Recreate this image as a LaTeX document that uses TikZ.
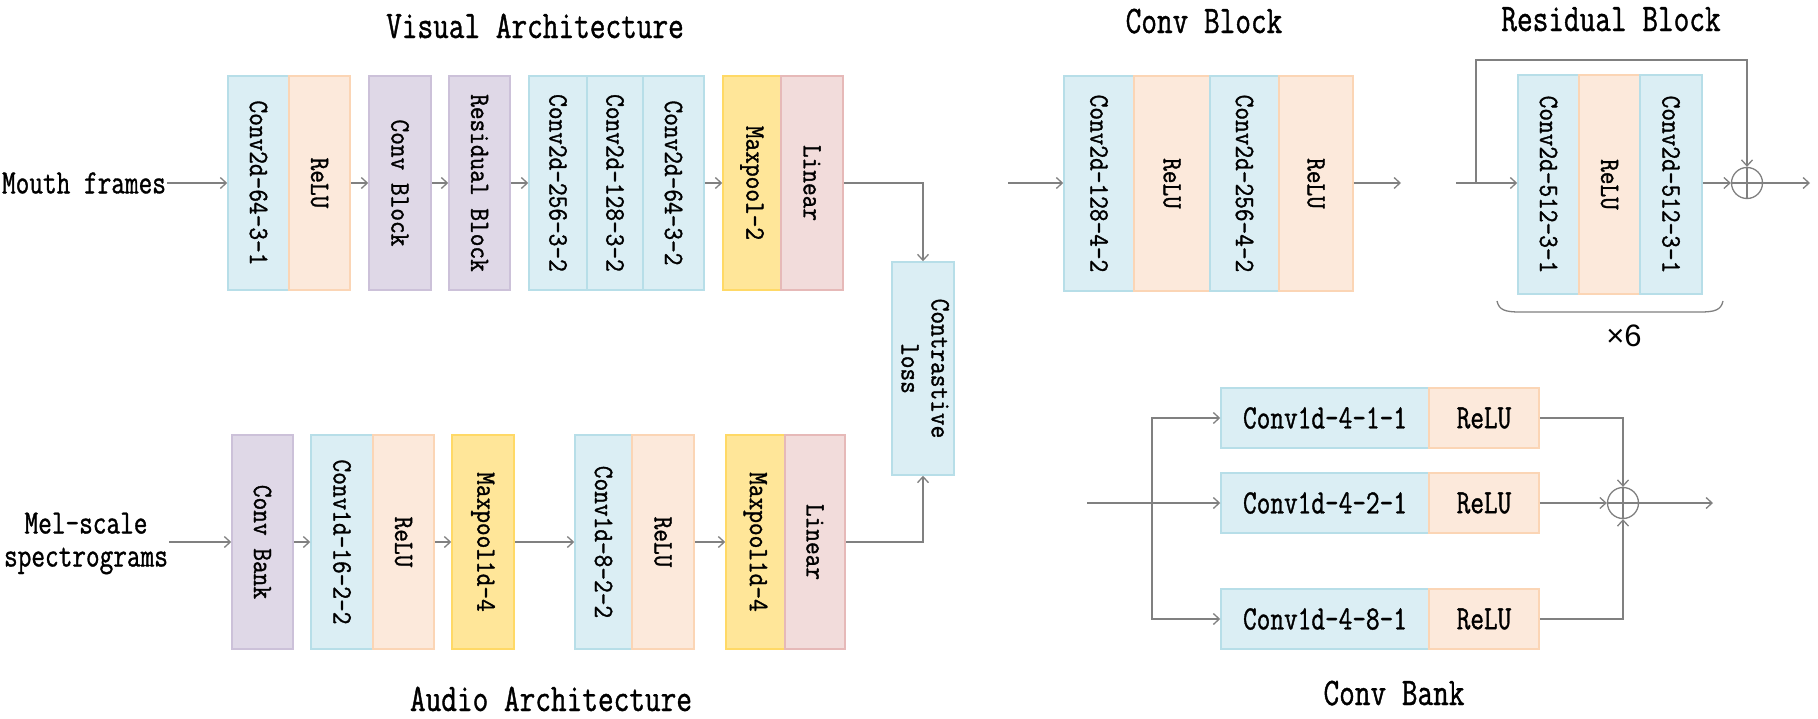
\documentclass[tikz,border=0pt]{standalone}
\usepackage{fontspec}
\usetikzlibrary{arrows.meta}
\newfontfamily\boxfont[FakeStretch=0.88,FakeBold=1.2]{Latin Modern Mono}
\newfontfamily\condfont[FakeStretch=0.78,FakeBold=1.0]{Latin Modern Mono}
\newfontfamily\symfont{Liberation Sans}
\definecolor{blueF}{RGB}{219,238,244}
\definecolor{blueD}{RGB}{183,222,232}
\definecolor{peachF}{RGB}{252,233,219}
\definecolor{peachD}{RGB}{251,213,181}
\definecolor{purpF}{RGB}{223,216,231}
\definecolor{purpD}{RGB}{204,193,217}
\definecolor{yellF}{RGB}{255,230,153}
\definecolor{yellD}{RGB}{255,217,102}
\definecolor{pinkF}{RGB}{242,220,219}
\definecolor{pinkD}{RGB}{230,185,184}
\definecolor{lineG}{RGB}{128,128,128}
\tikzset{
  blk/.style={draw, line width=1.5pt, inner sep=0pt, font=\boxfont\fontsize{28}{32}\selectfont},
  bluebox/.style={blk, fill=blueF, draw=blueD},
  peachbox/.style={blk, fill=peachF, draw=peachD},
  purpbox/.style={blk, fill=purpF, draw=purpD},
  yellbox/.style={blk, fill=yellF, draw=yellD},
  pinkbox/.style={blk, fill=pinkF, draw=pinkD},
  hfont/.style={font=\condfont\fontsize{34}{38}\selectfont},
  conn/.style={draw=lineG, line width=1.3pt},
  arr/.style={conn, -{Straight Barb[length=6pt,width=11pt]}},
  title/.style={font=\condfont\fontsize{39}{44}\selectfont, anchor=base, inner sep=0pt},
  lbl/.style={font=\condfont\fontsize{34}{33}\selectfont, align=center, inner sep=1pt},
  plusnode/.style={circle, draw=lineG, line width=1.3pt, minimum size=31pt, inner sep=0pt},
}
\begin{document}
\begin{tikzpicture}[x=1pt,y=-1pt]
\useasboundingbox (0,0) rectangle (1818,718);

% ---------- titles ----------
\node[title] (vtitle) at (535,38) {Visual Architecture};
\node[title] (atitle) at (551,711) {Audio Architecture};
\node[title] (cbtitle) at (1204,33) {Conv Block};
\node[title] (rbtitle) at (1611,31) {Residual Block};
\node[title] (kbtitle) at (1394,705) {Conv Bank};

% ---------- visual architecture ----------
\node[lbl] (mouth) at (84,183) {Mouth frames};
\node[bluebox, minimum width=61pt, minimum height=214pt] (v1) at (258.5,183) {\rotatebox{-90}{Conv2d-64-3-1}};
\node[peachbox, minimum width=61pt, minimum height=214pt] (v2) at (319.5,183) {\rotatebox{-90}{ReLU}};
\node[purpbox, minimum width=62pt, minimum height=214pt] (v3) at (400,183) {\rotatebox{-90}{Conv Block}};
\node[purpbox, minimum width=61pt, minimum height=214pt] (v4) at (479.5,183) {\rotatebox{-90}{Residual Block}};
\node[bluebox, minimum width=58pt, minimum height=214pt] (v5) at (558,183) {\rotatebox{-90}{Conv2d-256-3-2}};
\node[bluebox, minimum width=56pt, minimum height=214pt] (v6) at (615,183) {\rotatebox{-90}{Conv2d-128-3-2}};
\node[bluebox, minimum width=61pt, minimum height=214pt] (v7) at (673.5,183) {\rotatebox{-90}{Conv2d-64-3-2}};
\node[yellbox, minimum width=58pt, minimum height=214pt] (v8) at (752,183) {\rotatebox{-90}{Maxpool-2}};
\node[pinkbox, minimum width=62pt, minimum height=214pt] (v9) at (812,183) {\rotatebox{-90}{Linear}};

\draw[arr] (mouth.east) -- (v1.west);
\draw[arr] (v2.east) -- (v3.west);
\draw[arr] (v3.east) -- (v4.west);
\draw[arr] (v4.east) -- (v5.west);
\draw[arr] (v7.east) -- (v8.west);

% ---------- contrastive loss ----------
\node[bluebox, minimum width=62pt, minimum height=213pt] (cl) at (923,368.5)
  {\rotatebox{-90}{\begin{tabular}{@{}c@{}}Contrastive\\[-2pt]loss\end{tabular}}};
\draw[arr] (v9.east) -| (cl.north);

% ---------- audio architecture ----------
\node[lbl] (mel) at (86,543.5) {Mel-scale\\spectrograms};
\node[purpbox, minimum width=61pt, minimum height=214pt] (a1) at (262.5,542) {\rotatebox{-90}{Conv Bank}};
\node[bluebox, minimum width=62pt, minimum height=214pt] (a2) at (342,542) {\rotatebox{-90}{Conv1d-16-2-2}};
\node[peachbox, minimum width=61pt, minimum height=214pt] (a3) at (403.5,542) {\rotatebox{-90}{ReLU}};
\node[yellbox, minimum width=62pt, minimum height=214pt] (a4) at (483,542) {\rotatebox{-90}{Maxpool1d-4}};
\node[bluebox, minimum width=57pt, minimum height=214pt] (a5) at (603.5,542) {\rotatebox{-90}{Conv1d-8-2-2}};
\node[peachbox, minimum width=62pt, minimum height=214pt] (a6) at (663,542) {\rotatebox{-90}{ReLU}};
\node[yellbox, minimum width=59pt, minimum height=214pt] (a7) at (755.5,542) {\rotatebox{-90}{Maxpool1d-4}};
\node[pinkbox, minimum width=60pt, minimum height=214pt] (a8) at (815,542) {\rotatebox{-90}{Linear}};

\draw[arr] (mel.east |- a1.west) -- (a1.west);
\draw[arr] (a1.east) -- (a2.west);
\draw[arr] (a3.east) -- (a4.west);
\draw[arr] (a4.east) -- (a5.west);
\draw[arr] (a6.east) -- (a7.west);
\draw[arr] (a8.east) -| (cl.south);

% ---------- conv block ----------
\node[bluebox, minimum width=70pt, minimum height=215pt] (c1) at (1099,183.5) {\rotatebox{-90}{Conv2d-128-4-2}};
\node[peachbox, minimum width=76pt, minimum height=215pt] (c2) at (1172,183.5) {\rotatebox{-90}{ReLU}};
\node[bluebox, minimum width=69pt, minimum height=215pt] (c3) at (1244.5,183.5) {\rotatebox{-90}{Conv2d-256-4-2}};
\node[peachbox, minimum width=74pt, minimum height=215pt] (c4) at (1316,183.5) {\rotatebox{-90}{ReLU}};
\coordinate (cin) at (1008,183);
\coordinate (cout) at (1401,183);
\draw[arr] (cin) -- (c1.west |- cin);
\draw[arr] (c4.east |- cout) -- (cout);

% ---------- residual block ----------
\node[bluebox, minimum width=61pt, minimum height=219pt] (r1) at (1548.5,184.5) {\rotatebox{-90}{Conv2d-512-3-1}};
\node[peachbox, minimum width=61pt, minimum height=219pt] (r2) at (1609.5,184.5) {\rotatebox{-90}{ReLU}};
\node[bluebox, minimum width=62pt, minimum height=219pt] (r3) at (1671,184.5) {\rotatebox{-90}{Conv2d-512-3-1}};
\node[plusnode] (rplus) at (1747,183) {};
\draw[conn] (rplus.north) -- (rplus.south) (rplus.west) -- (rplus.east);
\coordinate (rin) at (1456,183);
\coordinate (rsplit) at (1476,183);
\coordinate (rup) at (1476,60);
\coordinate (rout) at (1810,183);
\draw[arr] (rin) -- (r1.west |- rin);
\draw[arr] (rsplit) -- (rup) -| (rplus.north);
\draw[arr] (r3.east |- rplus.west) -- (rplus.west);
\draw[arr] (rplus.east) -- (rout);
\draw[conn] (1497,301) .. controls (1499,310) and (1505,312) .. (1520,312) -- (1700,312)
  .. controls (1715,312) and (1721,310) .. (1723,301);
\node[font=\symfont\fontsize{31}{34}\selectfont] (times6) at (1624,336) {×6};

% ---------- conv bank ----------
\node[bluebox, hfont, minimum width=208pt, minimum height=60pt] (k1) at (1325,418) {Conv1d-4-1-1};
\node[peachbox, hfont, minimum width=110pt, minimum height=60pt] (k1r) at (1484,418) {ReLU};
\node[bluebox, hfont, minimum width=208pt, minimum height=60pt] (k2) at (1325,503) {Conv1d-4-2-1};
\node[peachbox, hfont, minimum width=110pt, minimum height=60pt] (k2r) at (1484,503) {ReLU};
\node[bluebox, hfont, minimum width=208pt, minimum height=60pt] (k3) at (1325,619) {Conv1d-4-8-1};
\node[peachbox, hfont, minimum width=110pt, minimum height=60pt] (k3r) at (1484,619) {ReLU};
\node[plusnode] (kplus) at (1623,503) {};
\draw[conn] (kplus.north) -- (kplus.south) (kplus.west) -- (kplus.east);
\coordinate (kin) at (1087,503);
\coordinate (ksplit) at (1152,503);
\coordinate (kout) at (1713,503);
\draw[arr] (kin) -- (k2.west);
\draw[arr] (ksplit) |- (k1.west);
\draw[arr] (ksplit) |- (k3.west);
\draw[arr] (k1r.east) -| (kplus.north);
\draw[arr] (k2r.east) -- (kplus.west);
\draw[arr] (k3r.east) -| (kplus.south);
\draw[arr] (kplus.east) -- (kout);
\end{tikzpicture}
\end{document}
